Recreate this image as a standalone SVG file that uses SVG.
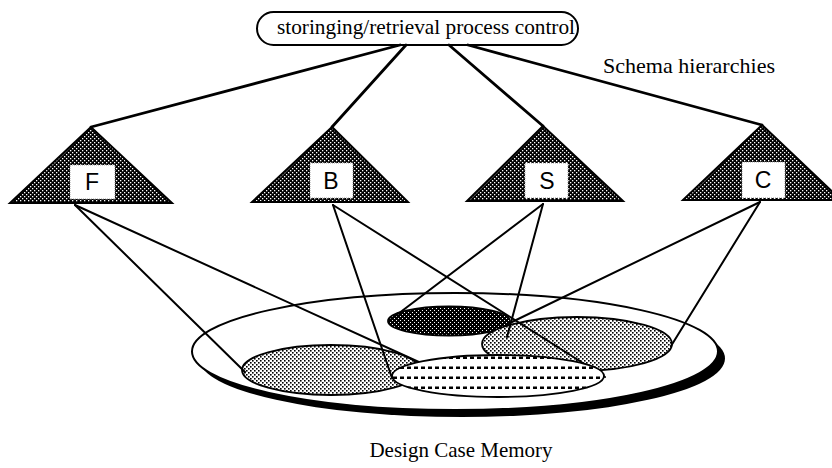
<svg xmlns="http://www.w3.org/2000/svg" width="832" height="468" viewBox="0 0 832 468">
  <defs>
    <!-- dense cross-hatch for schema hierarchies -->
    <pattern id="hatchDark" width="4" height="4" patternUnits="userSpaceOnUse">
      <rect width="4" height="4" fill="#000"/>
      <rect x="0" y="0" width="1.3" height="1.3" fill="#fff"/>
      <rect x="2" y="2" width="1.3" height="1.3" fill="#fff"/>
    </pattern>
    <!-- near-black stipple -->
    <pattern id="hatchBlack" width="4" height="4" patternUnits="userSpaceOnUse">
      <rect width="4" height="4" fill="#000"/>
      <rect x="0" y="0" width="1" height="1" fill="#fff"/>
      <rect x="2" y="2" width="1" height="1" fill="#fff"/>
    </pattern>
    <!-- light checker -->
    <pattern id="hatchLight" width="4" height="4" patternUnits="userSpaceOnUse">
      <rect width="4" height="4" fill="#fff"/>
      <rect x="0" y="0" width="1.6" height="1.6" fill="#000"/>
      <rect x="2" y="2" width="1.6" height="1.6" fill="#000"/>
    </pattern>
    <!-- rows of short dashes -->
    <pattern id="dashRows" width="7" height="10" patternUnits="userSpaceOnUse">
      <rect width="7" height="10" fill="#fff"/>
      <rect x="1" y="6.5" width="4" height="2.5" fill="#000"/>
    </pattern>
    <style>
      .tri { fill: url(#hatchDark); stroke: #000; stroke-width: 2; stroke-linejoin: miter; }
      .lbl-box { fill: #fff; stroke: #888; stroke-width: 0.8; stroke-dasharray: 1 1; }
      .lbl { font-family: "Liberation Sans", Arial, sans-serif; font-size: 23px; fill: #000; text-anchor: middle; }
      .serif { font-family: "Liberation Serif", "Times New Roman", serif; font-size: 21px; fill: #000; }
      .edge { stroke: #000; stroke-width: 2; fill: none; stroke-linecap: round; }
      .edge-top { stroke: #000; stroke-width: 2.8; fill: none; stroke-linecap: round; }
      .oval { stroke: #000; stroke-width: 1.8; }
    </style>
  </defs>

  <rect width="832" height="468" fill="#fff"/>

  <!-- process control -->
  <g id="control">
    <rect x="257" y="12" width="321" height="33" rx="16.5" ry="16.5" fill="#fff" stroke="#000" stroke-width="2"/>
    <text class="serif" x="277" y="34" textLength="298" lengthAdjust="spacingAndGlyphs">storinging/retrieval process control</text>
  </g>

  <text class="serif" x="603" y="73" textLength="172" lengthAdjust="spacingAndGlyphs">Schema hierarchies</text>

  <!-- memory plate with case regions -->
  <g id="memory">
    <ellipse cx="462" cy="358.5" rx="263" ry="58.5" fill="#000"/>
    <ellipse cx="455" cy="351.5" rx="263" ry="58.5" fill="#fff" stroke="#000" stroke-width="2"/>
    <ellipse id="case-dark" class="oval" cx="449" cy="321" rx="61" ry="14.5" fill="url(#hatchBlack)"/>
    <ellipse id="case-right" class="oval" cx="577" cy="344" rx="95" ry="27" fill="url(#hatchLight)"/>
    <ellipse id="case-left" class="oval" cx="331" cy="370" rx="89" ry="25" fill="url(#hatchLight)"/>
  </g>

  <!-- schema hierarchies -->
  <g id="schema-F">
    <polygon class="tri" points="91,127 10,203 172,203"/>
    <rect class="lbl-box" x="70" y="165" width="45" height="34"/>
    <text class="lbl" x="92" y="190">F</text>
  </g>
  <g id="schema-B">
    <polygon class="tri" points="332,127 252,202 408,202"/>
    <rect class="lbl-box" x="310" y="163" width="43" height="35"/>
    <text class="lbl" x="331" y="189">B</text>
  </g>
  <g id="schema-S">
    <polygon class="tri" points="543,126 467,201 623,201"/>
    <rect class="lbl-box" x="525" y="163" width="43" height="35"/>
    <text class="lbl" x="547" y="189">S</text>
  </g>
  <g id="schema-C">
    <polygon class="tri" points="762,125 683,200 841,200"/>
    <rect class="lbl-box" x="742" y="162" width="43" height="36"/>
    <text class="lbl" x="763" y="188">C</text>
  </g>

  <!-- connectors -->
  <g id="connectors">
    <line class="edge-top" x1="400" y1="45" x2="91" y2="127"/>
    <line class="edge-top" x1="406" y1="45" x2="332" y2="127"/>
    <line class="edge-top" x1="449" y1="45" x2="543" y2="126"/>
    <line class="edge-top" x1="468" y1="45" x2="762" y2="125"/>

    <line class="edge" x1="75" y1="205" x2="245" y2="372"/>
    <line class="edge" x1="75" y1="205" x2="432" y2="368"/>
    <line class="edge" x1="333" y1="205" x2="392" y2="378"/>
    <line class="edge" x1="333" y1="205" x2="605" y2="377"/>
    <line class="edge" x1="543" y1="204" x2="390" y2="320"/>
    <line class="edge" x1="543" y1="204" x2="507" y2="337"/>
    <line class="edge" x1="760" y1="202" x2="512" y2="322"/>
    <line class="edge" x1="760" y1="202" x2="671" y2="346"/>
  </g>

  <!-- front case region -->
  <g id="case-front">
    <ellipse class="oval" cx="498" cy="376" rx="106" ry="21" fill="url(#dashRows)"/>
  </g>

  <text class="serif" x="461" y="457" text-anchor="middle">Design Case Memory</text>
</svg>
